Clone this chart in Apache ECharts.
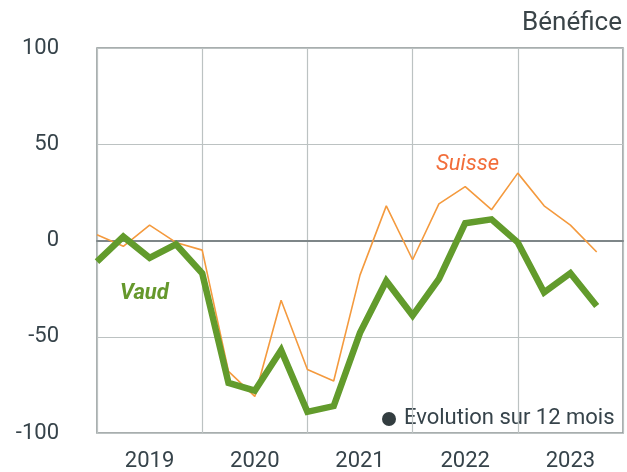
<!DOCTYPE html>
<html>
<head>
<meta charset="utf-8">
<script src="https://cdn.jsdelivr.net/npm/echarts@6/dist/echarts.min.js"></script>
<style>
  html, body { margin: 0; padding: 0; background: #fff; }
  #chart { width: 627px; height: 472px; }
</style>
</head>
<body>
<div id="chart"></div>
<script>
// trimestres 2019 T1 .. 2023 T4
var quarters = ['2019T1','2019T2','2019T3','2019T4','2020T1','2020T2','2020T3','2020T4',
                '2021T1','2021T2','2021T3','2021T4','2022T1','2022T2','2022T3','2022T4',
                '2023T1','2023T2','2023T3','2023T4'];
var years = ['2019', '2020', '2021', '2022', '2023'];
var vaud = [-11, 2, -9, -2, -17, -74, -78, -57, -89, -86, -48, -21, -39, -20, 9, 11, -1, -27, -17, -34];
var suisse = [3, -3, 8, -1, -5, -68, -81, -31, -67, -73, -18, 18, -10, 19, 28, 16, 35, 18, 8, -6];
var yTicks = [-100, -50, 0, 50, 100];

var font = "'Liberation Sans Narrow', 'Roboto', sans-serif";
var textColor = '#36434a';

var myChart = echarts.init(document.getElementById('chart'));

function pairs(values) {
  return values.map(function (v, i) { return [i, v]; });
}

var option = {
  animation: false,
  grid: {
    left: 97, right: 4, top: 48, bottom: 35,
    show: true,
    borderColor: '#8c9494',
    borderWidth: 1.5
  },
  xAxis: [
    {
      type: 'value',
      min: 0, max: quarters.length, interval: 4,
      axisLine: { onZero: true, lineStyle: { color: '#7e8688', width: 2 } },
      axisTick: { show: false },
      axisLabel: { show: false },
      splitLine: { show: true, lineStyle: { color: '#bcc2c2', width: 1.2 } }
    },
    {
      type: 'value',
      min: 0, max: quarters.length, interval: 2,
      position: 'bottom',
      axisLine: { show: false },
      axisTick: { show: false },
      splitLine: { show: false },
      axisLabel: {
        margin: 17,
        fontFamily: font,
        fontSize: 22,
        color: textColor,
        formatter: function (v) {
          return v % 4 === 2 ? years[(v - 2) / 4] : '';
        }
      }
    }
  ],
  yAxis: {
    type: 'value',
    min: yTicks[0], max: yTicks[yTicks.length - 1], interval: 50,
    axisLine: { show: false },
    axisTick: { show: false },
    axisLabel: {
      margin: 38,
      fontFamily: font,
      fontSize: 22,
      color: textColor
    },
    splitLine: { lineStyle: { color: '#bcc2c2', width: 1.2 } }
  },
  series: [
    {
      name: 'Suisse',
      type: 'line',
      xAxisIndex: 0,
      data: pairs(suisse),
      symbol: 'none',
      lineStyle: { color: '#f49a3e', width: 1.6 },
      z: 3
    },
    {
      name: 'Vaud',
      type: 'line',
      xAxisIndex: 0,
      data: pairs(vaud),
      symbol: 'none',
      lineStyle: { color: '#629b2c', width: 6.5, join: 'miter' },
      z: 4
    }
  ],
  graphic: [
    {
      type: 'text', right: 5, top: 10,
      style: { text: 'Bénéfice', font: '26px ' + font, fill: '#3a4448' }
    },
    {
      type: 'text', left: 120, top: 282,
      style: { text: 'Vaud', font: 'italic bold 22px ' + font, fill: '#65982c' }
    },
    {
      type: 'text', left: 436, top: 153,
      style: { text: 'Suisse', font: 'italic 22px ' + font, fill: '#f26d3a' }
    },
    {
      type: 'circle', shape: { cx: 389, cy: 419, r: 7 },
      style: { fill: '#333d40' }
    },
    {
      type: 'text', left: 404, top: 407,
      style: { text: 'Evolution sur 12 mois', font: '22px ' + font, fill: textColor }
    }
  ]
};

myChart.setOption(option);
window.addEventListener('resize', function () {
  myChart.resize();
});
</script>
</body>
</html>
